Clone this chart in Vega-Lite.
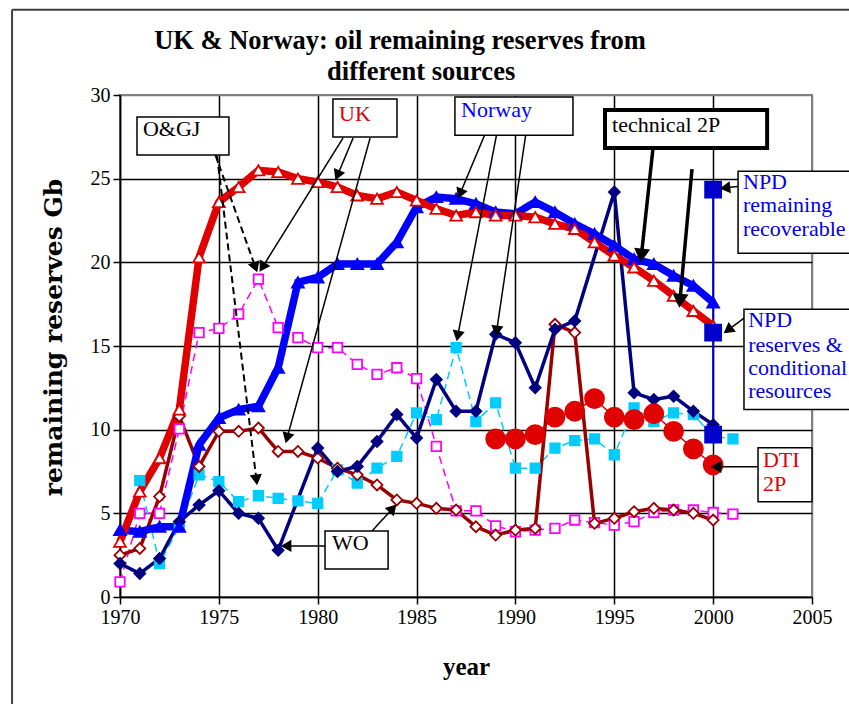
{
  "$schema": "https://vega.github.io/schema/vega-lite/v6.json",
  "width": 692,
  "height": 502,
  "autosize": {"type": "none"},
  "padding": {"left": 120, "top": 95, "right": 37, "bottom": 107},
  "background": "white",
  "config": {"view": {"stroke": "#808080", "strokeWidth": 2}, "font": "Liberation Serif"},
  "datasets": {
    "series": [
      {"series": "UK O&GJ", "year": 1970, "value": 0.9},
      {"series": "UK O&GJ", "year": 1971, "value": 5.0},
      {"series": "UK O&GJ", "year": 1972, "value": 5.0},
      {"series": "UK O&GJ", "year": 1973, "value": 10.05},
      {"series": "UK O&GJ", "year": 1974, "value": 15.8},
      {"series": "UK O&GJ", "year": 1975, "value": 16.05},
      {"series": "UK O&GJ", "year": 1976, "value": 16.9},
      {"series": "UK O&GJ", "year": 1977, "value": 19.0},
      {"series": "UK O&GJ", "year": 1978, "value": 16.1},
      {"series": "UK O&GJ", "year": 1979, "value": 15.5},
      {"series": "UK O&GJ", "year": 1980, "value": 14.9},
      {"series": "UK O&GJ", "year": 1981, "value": 14.9},
      {"series": "UK O&GJ", "year": 1982, "value": 13.9},
      {"series": "UK O&GJ", "year": 1983, "value": 13.3},
      {"series": "UK O&GJ", "year": 1984, "value": 13.7},
      {"series": "UK O&GJ", "year": 1985, "value": 13.05},
      {"series": "UK O&GJ", "year": 1986, "value": 9.0},
      {"series": "UK O&GJ", "year": 1987, "value": 5.15},
      {"series": "UK O&GJ", "year": 1988, "value": 5.15},
      {"series": "UK O&GJ", "year": 1989, "value": 4.25},
      {"series": "UK O&GJ", "year": 1990, "value": 3.9},
      {"series": "UK O&GJ", "year": 1991, "value": 4.0},
      {"series": "UK O&GJ", "year": 1992, "value": 4.1},
      {"series": "UK O&GJ", "year": 1993, "value": 4.6},
      {"series": "UK O&GJ", "year": 1994, "value": 4.45},
      {"series": "UK O&GJ", "year": 1995, "value": 4.3},
      {"series": "UK O&GJ", "year": 1996, "value": 4.5},
      {"series": "UK O&GJ", "year": 1997, "value": 5.05},
      {"series": "UK O&GJ", "year": 1998, "value": 5.2},
      {"series": "UK O&GJ", "year": 1999, "value": 5.2},
      {"series": "UK O&GJ", "year": 2000, "value": 5.05},
      {"series": "UK O&GJ", "year": 2001, "value": 4.95},

      {"series": "Norway O&GJ", "year": 1971, "value": 6.95},
      {"series": "Norway O&GJ", "year": 1972, "value": 2.0},
      {"series": "Norway O&GJ", "year": 1973, "value": 4.2},
      {"series": "Norway O&GJ", "year": 1974, "value": 7.3},
      {"series": "Norway O&GJ", "year": 1975, "value": 6.9},
      {"series": "Norway O&GJ", "year": 1976, "value": 5.7},
      {"series": "Norway O&GJ", "year": 1977, "value": 6.05},
      {"series": "Norway O&GJ", "year": 1978, "value": 5.9},
      {"series": "Norway O&GJ", "year": 1979, "value": 5.75},
      {"series": "Norway O&GJ", "year": 1980, "value": 5.6},
      {"series": "Norway O&GJ", "year": 1981, "value": 7.6},
      {"series": "Norway O&GJ", "year": 1982, "value": 6.8},
      {"series": "Norway O&GJ", "year": 1983, "value": 7.7},
      {"series": "Norway O&GJ", "year": 1984, "value": 8.4},
      {"series": "Norway O&GJ", "year": 1985, "value": 11.0},
      {"series": "Norway O&GJ", "year": 1986, "value": 10.6},
      {"series": "Norway O&GJ", "year": 1987, "value": 14.9},
      {"series": "Norway O&GJ", "year": 1988, "value": 10.5},
      {"series": "Norway O&GJ", "year": 1989, "value": 11.6},
      {"series": "Norway O&GJ", "year": 1990, "value": 7.7},
      {"series": "Norway O&GJ", "year": 1991, "value": 7.7},
      {"series": "Norway O&GJ", "year": 1992, "value": 8.9},
      {"series": "Norway O&GJ", "year": 1993, "value": 9.35},
      {"series": "Norway O&GJ", "year": 1994, "value": 9.45},
      {"series": "Norway O&GJ", "year": 1995, "value": 8.5},
      {"series": "Norway O&GJ", "year": 1996, "value": 11.3},
      {"series": "Norway O&GJ", "year": 1997, "value": 10.5},
      {"series": "Norway O&GJ", "year": 1998, "value": 11.0},
      {"series": "Norway O&GJ", "year": 1999, "value": 10.9},
      {"series": "Norway O&GJ", "year": 2000, "value": 9.6},
      {"series": "Norway O&GJ", "year": 2001, "value": 9.45},

      {"series": "UK WO", "year": 1970, "value": 2.5},
      {"series": "UK WO", "year": 1971, "value": 2.9},
      {"series": "UK WO", "year": 1972, "value": 6.0},
      {"series": "UK WO", "year": 1973, "value": 10.8},
      {"series": "UK WO", "year": 1974, "value": 7.8},
      {"series": "UK WO", "year": 1975, "value": 9.9},
      {"series": "UK WO", "year": 1976, "value": 9.9},
      {"series": "UK WO", "year": 1977, "value": 10.1},
      {"series": "UK WO", "year": 1978, "value": 8.7},
      {"series": "UK WO", "year": 1979, "value": 8.7},
      {"series": "UK WO", "year": 1980, "value": 8.3},
      {"series": "UK WO", "year": 1981, "value": 7.7},
      {"series": "UK WO", "year": 1982, "value": 7.3},
      {"series": "UK WO", "year": 1983, "value": 6.7},
      {"series": "UK WO", "year": 1984, "value": 5.8},
      {"series": "UK WO", "year": 1985, "value": 5.6},
      {"series": "UK WO", "year": 1986, "value": 5.3},
      {"series": "UK WO", "year": 1987, "value": 5.2},
      {"series": "UK WO", "year": 1988, "value": 4.2},
      {"series": "UK WO", "year": 1989, "value": 3.7},
      {"series": "UK WO", "year": 1990, "value": 4.0},
      {"series": "UK WO", "year": 1991, "value": 4.1},
      {"series": "UK WO", "year": 1992, "value": 16.3},
      {"series": "UK WO", "year": 1993, "value": 15.8},
      {"series": "UK WO", "year": 1994, "value": 4.4},
      {"series": "UK WO", "year": 1995, "value": 4.7},
      {"series": "UK WO", "year": 1996, "value": 5.1},
      {"series": "UK WO", "year": 1997, "value": 5.3},
      {"series": "UK WO", "year": 1998, "value": 5.2},
      {"series": "UK WO", "year": 1999, "value": 5.0},
      {"series": "UK WO", "year": 2000, "value": 4.6},

      {"series": "Norway WO", "year": 1970, "value": 2.0},
      {"series": "Norway WO", "year": 1971, "value": 1.4},
      {"series": "Norway WO", "year": 1972, "value": 2.3},
      {"series": "Norway WO", "year": 1973, "value": 4.5},
      {"series": "Norway WO", "year": 1974, "value": 5.5},
      {"series": "Norway WO", "year": 1975, "value": 6.35},
      {"series": "Norway WO", "year": 1976, "value": 5.0},
      {"series": "Norway WO", "year": 1977, "value": 4.7},
      {"series": "Norway WO", "year": 1978, "value": 2.8},
      {"series": "Norway WO", "year": 1980, "value": 8.9},
      {"series": "Norway WO", "year": 1981, "value": 7.5},
      {"series": "Norway WO", "year": 1982, "value": 7.8},
      {"series": "Norway WO", "year": 1983, "value": 9.3},
      {"series": "Norway WO", "year": 1984, "value": 10.9},
      {"series": "Norway WO", "year": 1985, "value": 9.5},
      {"series": "Norway WO", "year": 1986, "value": 13.0},
      {"series": "Norway WO", "year": 1987, "value": 11.1},
      {"series": "Norway WO", "year": 1988, "value": 11.1},
      {"series": "Norway WO", "year": 1989, "value": 15.7},
      {"series": "Norway WO", "year": 1990, "value": 15.2},
      {"series": "Norway WO", "year": 1991, "value": 12.5},
      {"series": "Norway WO", "year": 1992, "value": 16.0},
      {"series": "Norway WO", "year": 1993, "value": 16.5},
      {"series": "Norway WO", "year": 1995, "value": 24.2},
      {"series": "Norway WO", "year": 1996, "value": 12.2},
      {"series": "Norway WO", "year": 1997, "value": 11.8},
      {"series": "Norway WO", "year": 1998, "value": 12.0},
      {"series": "Norway WO", "year": 1999, "value": 11.1},
      {"series": "Norway WO", "year": 2000, "value": 10.3},

      {"series": "Norway technical 2P", "year": 1970, "value": 4.0},
      {"series": "Norway technical 2P", "year": 1971, "value": 3.9},
      {"series": "Norway technical 2P", "year": 1972, "value": 4.2},
      {"series": "Norway technical 2P", "year": 1973, "value": 4.2},
      {"series": "Norway technical 2P", "year": 1974, "value": 9.1},
      {"series": "Norway technical 2P", "year": 1975, "value": 10.7},
      {"series": "Norway technical 2P", "year": 1976, "value": 11.2},
      {"series": "Norway technical 2P", "year": 1977, "value": 11.4},
      {"series": "Norway technical 2P", "year": 1978, "value": 13.7},
      {"series": "Norway technical 2P", "year": 1979, "value": 18.8},
      {"series": "Norway technical 2P", "year": 1980, "value": 19.1},
      {"series": "Norway technical 2P", "year": 1981, "value": 19.9},
      {"series": "Norway technical 2P", "year": 1982, "value": 19.9},
      {"series": "Norway technical 2P", "year": 1983, "value": 19.9},
      {"series": "Norway technical 2P", "year": 1984, "value": 21.2},
      {"series": "Norway technical 2P", "year": 1985, "value": 23.3},
      {"series": "Norway technical 2P", "year": 1986, "value": 23.9},
      {"series": "Norway technical 2P", "year": 1987, "value": 23.8},
      {"series": "Norway technical 2P", "year": 1988, "value": 23.5},
      {"series": "Norway technical 2P", "year": 1989, "value": 23.0},
      {"series": "Norway technical 2P", "year": 1990, "value": 22.9},
      {"series": "Norway technical 2P", "year": 1991, "value": 23.6},
      {"series": "Norway technical 2P", "year": 1992, "value": 23.0},
      {"series": "Norway technical 2P", "year": 1993, "value": 22.3},
      {"series": "Norway technical 2P", "year": 1994, "value": 21.7},
      {"series": "Norway technical 2P", "year": 1995, "value": 21.0},
      {"series": "Norway technical 2P", "year": 1996, "value": 20.2},
      {"series": "Norway technical 2P", "year": 1997, "value": 19.9},
      {"series": "Norway technical 2P", "year": 1998, "value": 19.2},
      {"series": "Norway technical 2P", "year": 1999, "value": 18.6},
      {"series": "Norway technical 2P", "year": 2000, "value": 17.6},

      {"series": "UK technical 2P", "year": 1970, "value": 3.3},
      {"series": "UK technical 2P", "year": 1971, "value": 6.3},
      {"series": "UK technical 2P", "year": 1972, "value": 8.3},
      {"series": "UK technical 2P", "year": 1973, "value": 11.2},
      {"series": "UK technical 2P", "year": 1974, "value": 20.3},
      {"series": "UK technical 2P", "year": 1975, "value": 23.6},
      {"series": "UK technical 2P", "year": 1976, "value": 24.5},
      {"series": "UK technical 2P", "year": 1977, "value": 25.5},
      {"series": "UK technical 2P", "year": 1978, "value": 25.4},
      {"series": "UK technical 2P", "year": 1979, "value": 25.0},
      {"series": "UK technical 2P", "year": 1980, "value": 24.8},
      {"series": "UK technical 2P", "year": 1981, "value": 24.5},
      {"series": "UK technical 2P", "year": 1982, "value": 24.0},
      {"series": "UK technical 2P", "year": 1983, "value": 23.8},
      {"series": "UK technical 2P", "year": 1984, "value": 24.2},
      {"series": "UK technical 2P", "year": 1985, "value": 23.7},
      {"series": "UK technical 2P", "year": 1986, "value": 23.2},
      {"series": "UK technical 2P", "year": 1987, "value": 22.8},
      {"series": "UK technical 2P", "year": 1988, "value": 23.0},
      {"series": "UK technical 2P", "year": 1989, "value": 22.8},
      {"series": "UK technical 2P", "year": 1990, "value": 22.8},
      {"series": "UK technical 2P", "year": 1991, "value": 22.7},
      {"series": "UK technical 2P", "year": 1992, "value": 22.3},
      {"series": "UK technical 2P", "year": 1993, "value": 22.0},
      {"series": "UK technical 2P", "year": 1994, "value": 21.2},
      {"series": "UK technical 2P", "year": 1995, "value": 20.4},
      {"series": "UK technical 2P", "year": 1996, "value": 19.7},
      {"series": "UK technical 2P", "year": 1997, "value": 18.9},
      {"series": "UK technical 2P", "year": 1998, "value": 18.0},
      {"series": "UK technical 2P", "year": 1999, "value": 17.1},
      {"series": "UK technical 2P", "year": 2000, "value": 16.2},

      {"series": "DTI 2P", "year": 1989, "value": 9.45},
      {"series": "DTI 2P", "year": 1990, "value": 9.45},
      {"series": "DTI 2P", "year": 1991, "value": 9.7},
      {"series": "DTI 2P", "year": 1992, "value": 10.75},
      {"series": "DTI 2P", "year": 1993, "value": 11.1},
      {"series": "DTI 2P", "year": 1994, "value": 11.85},
      {"series": "DTI 2P", "year": 1995, "value": 10.75},
      {"series": "DTI 2P", "year": 1996, "value": 10.6},
      {"series": "DTI 2P", "year": 1997, "value": 10.95},
      {"series": "DTI 2P", "year": 1998, "value": 9.9},
      {"series": "DTI 2P", "year": 1999, "value": 8.85},
      {"series": "DTI 2P", "year": 2000, "value": 7.9},

      {"series": "NPD", "year": 2000, "value": 9.7},
      {"series": "NPD", "year": 2000, "value": 15.8},
      {"series": "NPD", "year": 2000, "value": 24.35}
    ],
    "boxes": [
      {"x0": 1970.86, "x1": 1975.51, "y0": 28.68, "y1": 26.41, "kind": "thin"},
      {"x0": 1980.77, "x1": 1984.01, "y0": 29.76, "y1": 27.49, "kind": "thin"},
      {"x0": 1986.94, "x1": 1992.91, "y0": 29.88, "y1": 27.6, "kind": "thin"},
      {"x0": 1994.53, "x1": 2002.73, "y0": 29.1, "y1": 26.83, "kind": "thick"},
      {"x0": 2001.26, "x1": 2007.6, "y0": 25.45, "y1": 20.54, "kind": "thin"},
      {"x0": 2001.56, "x1": 2007.6, "y0": 17.19, "y1": 11.2, "kind": "thin"},
      {"x0": 2002.27, "x1": 2005.0, "y0": 8.92, "y1": 5.69, "kind": "thin"},
      {"x0": 1980.37, "x1": 1983.56, "y0": 3.95, "y1": 1.68, "kind": "thin"}
    ],
    "labels": [
      {"text": "O&GJ", "x": 1971.16, "y": 27.54, "who": "plain"},
      {"text": "UK", "x": 1981.08, "y": 28.44, "who": "UK"},
      {"text": "Norway", "x": 1987.25, "y": 28.68, "who": "Norway"},
      {"text": "technical 2P", "x": 1994.89, "y": 27.78, "who": "plain"},
      {"text": "NPD", "x": 2001.51, "y": 24.37, "who": "NPD"},
      {"text": "remaining", "x": 2001.51, "y": 22.99, "who": "NPD"},
      {"text": "recoverable", "x": 2001.51, "y": 21.56, "who": "NPD"},
      {"text": "NPD", "x": 2001.77, "y": 16.11, "who": "NPD"},
      {"text": "reserves &", "x": 2001.77, "y": 14.67, "who": "NPD"},
      {"text": "conditional", "x": 2001.77, "y": 13.29, "who": "NPD"},
      {"text": "resources", "x": 2001.77, "y": 11.92, "who": "NPD"},
      {"text": "DTI", "x": 2002.52, "y": 7.78, "who": "DTI"},
      {"text": "2P", "x": 2002.52, "y": 6.35, "who": "DTI"},
      {"text": "WO", "x": 1980.72, "y": 2.81, "who": "plain"}
    ],
    "titles": [
      {"text": "UK & Norway: oil remaining reserves from", "x": 1984.16, "y": 32.72},
      {"text": "different sources", "x": 1985.23, "y": 30.9}
    ],
    "arrows": [
      {"xs": 1974.81, "ys": 26.47, "xt": 1976.85, "yt": 19.7, "kind": "dashed"},
      {"xs": 1974.91, "ys": 26.35, "xt": 1976.9, "yt": 7.0, "kind": "dashed"},
      {"xs": 1981.28, "ys": 27.43, "xt": 1977.2, "yt": 19.7, "kind": "solid"},
      {"xs": 1981.79, "ys": 27.43, "xt": 1981.0, "yt": 25.2, "kind": "solid"},
      {"xs": 1982.65, "ys": 27.43, "xt": 1978.45, "yt": 9.5, "kind": "solid"},
      {"xs": 1988.46, "ys": 27.66, "xt": 1987.2, "yt": 24.1, "kind": "solid"},
      {"xs": 1989.07, "ys": 27.78, "xt": 1987.08, "yt": 15.6, "kind": "solid"},
      {"xs": 1990.54, "ys": 27.78, "xt": 1989.05, "yt": 15.9, "kind": "solid"},
      {"xs": 1996.96, "ys": 26.83, "xt": 1996.37, "yt": 20.4, "kind": "thick"},
      {"xs": 1998.93, "ys": 25.57, "xt": 1998.32, "yt": 17.7, "kind": "thick"},
      {"xs": 2001.36, "ys": 24.55, "xt": 2000.6, "yt": 24.45, "kind": "solid"},
      {"xs": 2001.61, "ys": 16.71, "xt": 2000.75, "yt": 15.95, "kind": "solid"},
      {"xs": 2002.27, "ys": 7.78, "xt": 2000.15, "yt": 7.78, "kind": "solid"},
      {"xs": 1980.37, "ys": 3.05, "xt": 1978.4, "yt": 3.05, "kind": "solid"},
      {"xs": 1982.75, "ys": 3.95, "xt": 1983.8, "yt": 5.3, "kind": "solid"}
    ],
    "frame": [
      {"xs": 1964.54, "ys": 35.1, "xt": 2012, "yt": 35.1},
      {"xs": 1964.54, "ys": 35.1, "xt": 1964.54, "yt": -8}
    ]
  },
  "resolve": {"scale": {"color": "independent", "fill": "independent", "stroke": "independent", "strokeWidth": "independent", "strokeDash": "independent", "size": "independent", "shape": "independent"}},
  "layer": [
    {
      "data": {"name": "frame"},
      "mark": {"type": "rule", "color": "#404040", "strokeWidth": 2, "clip": false},
      "encoding": {
        "x": {"field": "xs", "type": "quantitative", "scale": {"domain": [1970, 2005], "nice": false, "zero": false},
          "axis": {
            "values": [1970, 1975, 1980, 1985, 1990, 1995, 2000, 2005], "format": "d", "labelFlush": false,
            "grid": true, "gridColor": {"condition": {"test": "datum.value === 2005", "value": "#808080"}, "value": "black"}, "gridWidth": 1.5,
            "domainColor": "black", "domainWidth": 1.5, "tickColor": "black", "tickSize": 7, "tickWidth": 1.5,
            "labelFont": "Liberation Serif", "labelFontSize": 20, "labelColor": "black", "labelPadding": 3,
            "title": "year", "titleFont": "Liberation Serif", "titleFontSize": 25, "titleFontWeight": "bold", "titleColor": "black", "titlePadding": 27
          }},
        "x2": {"field": "xt"},
        "y": {"field": "ys", "type": "quantitative", "scale": {"domain": [0, 30], "nice": false, "zero": true},
          "axis": {
            "values": [0, 5, 10, 15, 20, 25, 30], "labelFlush": false,
            "grid": true, "gridColor": {"condition": {"test": "datum.value === 30", "value": "#808080"}, "value": "black"}, "gridWidth": 1.5,
            "domainColor": "black", "domainWidth": 1.5, "tickColor": "black", "tickSize": 7, "tickWidth": 1.5,
            "labelFont": "Liberation Serif", "labelFontSize": 20, "labelColor": "black", "labelPadding": 3,
            "title": "remaining reserves Gb", "titleFont": "DejaVu Serif", "titleFontSize": 25, "titleFontWeight": "bold", "titleColor": "black",
            "titleAngle": 270, "titleX": -67, "titleY": 242, "titleAlign": "center", "titleBaseline": "middle"
          }},
        "y2": {"field": "yt"}
      }
    },
    {
      "data": {"name": "titles"},
      "mark": {"type": "text", "align": "center", "baseline": "alphabetic", "font": "Liberation Serif", "fontSize": 26.5, "fontWeight": "bold", "color": "black", "clip": false},
      "encoding": {
        "x": {"field": "x", "type": "quantitative"},
        "y": {"field": "y", "type": "quantitative"},
        "text": {"field": "text"}
      }
    },
    {
      "data": {"name": "series"},
      "mark": {"type": "line", "clip": false},
      "encoding": {
        "x": {"field": "year", "type": "quantitative"},
        "y": {"field": "value", "type": "quantitative"},
        "color": {"field": "series", "type": "nominal", "legend": null,
          "scale": {"domain": ["UK O&GJ", "Norway O&GJ", "UK WO", "Norway WO", "Norway technical 2P", "UK technical 2P", "DTI 2P", "NPD"],
                    "range": ["#FF00FF", "#00CCFF", "#990000", "#000080", "#0000FF", "#E00000", "#E00000", "#0000CC"]}},
        "strokeWidth": {"field": "series", "type": "ordinal", "legend": null,
          "scale": {"type": "ordinal", "domain": ["UK O&GJ", "Norway O&GJ", "UK WO", "Norway WO", "Norway technical 2P", "UK technical 2P", "DTI 2P", "NPD"],
                    "range": [1.5, 1.5, 3.5, 3.5, 7.5, 7.5, 1.5, 2]}},
        "strokeDash": {"field": "series", "type": "nominal", "legend": null,
          "scale": {"domain": ["UK O&GJ", "Norway O&GJ", "UK WO", "Norway WO", "Norway technical 2P", "UK technical 2P", "DTI 2P", "NPD"],
                    "range": [[8, 5], [8, 5], [1, 0], [1, 0], [1, 0], [1, 0], [1, 0], [1, 0]]}}
      }
    },
    {
      "data": {"name": "series"},
      "mark": {"type": "point", "filled": true, "strokeWidth": 1.8, "opacity": 1, "clip": false},
      "encoding": {
        "x": {"field": "year", "type": "quantitative"},
        "y": {"field": "value", "type": "quantitative"},
        "shape": {"field": "series", "type": "nominal", "legend": null,
          "scale": {"domain": ["UK O&GJ", "Norway O&GJ", "UK WO", "Norway WO", "Norway technical 2P", "UK technical 2P", "DTI 2P", "NPD"],
                    "range": ["square", "square", "diamond", "diamond", "triangle-up", "triangle-up", "circle", "square"]}},
        "fill": {"field": "series", "type": "nominal", "legend": null,
          "scale": {"domain": ["UK O&GJ", "Norway O&GJ", "UK WO", "Norway WO", "Norway technical 2P", "UK technical 2P", "DTI 2P", "NPD"],
                    "range": ["white", "#00CCFF", "white", "#000080", "#0000FF", "white", "#E00000", "#0000CC"]}},
        "stroke": {"field": "series", "type": "nominal", "legend": null,
          "scale": {"domain": ["UK O&GJ", "Norway O&GJ", "UK WO", "Norway WO", "Norway technical 2P", "UK technical 2P", "DTI 2P", "NPD"],
                    "range": ["#FF00FF", "#00CCFF", "#990000", "#000080", "#0000FF", "#E00000", "#E00000", "#0000CC"]}},
        "size": {"field": "series", "type": "ordinal", "legend": null,
          "scale": {"type": "ordinal", "domain": ["UK O&GJ", "Norway O&GJ", "UK WO", "Norway WO", "Norway technical 2P", "UK technical 2P", "DTI 2P", "NPD"],
                    "range": [90, 90, 120, 120, 140, 140, 361, 256]}}
      }
    },
    {
      "data": {"name": "arrows"},
      "mark": {"type": "rule", "color": "black", "clip": false},
      "encoding": {
        "x": {"field": "xs", "type": "quantitative"},
        "y": {"field": "ys", "type": "quantitative"},
        "x2": {"field": "xt"},
        "y2": {"field": "yt"},
        "strokeWidth": {"field": "kind", "type": "ordinal", "legend": null,
          "scale": {"type": "ordinal", "domain": ["solid", "dashed", "thick"], "range": [1.5, 2, 3.5]}},
        "strokeDash": {"field": "kind", "type": "nominal", "legend": null,
          "scale": {"domain": ["solid", "dashed", "thick"], "range": [[1, 0], [7, 4], [1, 0]]}}
      }
    },
    {
      "data": {"name": "boxes"},
      "mark": {"type": "rect", "fill": "white", "stroke": "black", "clip": false},
      "encoding": {
        "x": {"field": "x0", "type": "quantitative"},
        "x2": {"field": "x1"},
        "y": {"field": "y0", "type": "quantitative"},
        "y2": {"field": "y1"},
        "strokeWidth": {"field": "kind", "type": "ordinal", "legend": null,
          "scale": {"type": "ordinal", "domain": ["thin", "thick"], "range": [1.5, 4]}}
      }
    },
    {
      "data": {"name": "labels"},
      "mark": {"type": "text", "align": "left", "baseline": "alphabetic", "font": "Liberation Serif", "fontSize": 22, "clip": false},
      "encoding": {
        "x": {"field": "x", "type": "quantitative"},
        "y": {"field": "y", "type": "quantitative"},
        "text": {"field": "text"},
        "color": {"field": "who", "type": "nominal", "legend": null,
          "scale": {"domain": ["plain", "UK", "Norway", "NPD", "DTI"], "range": ["black", "#E00000", "#0000FF", "#0000EE", "#E00000"]}}
      }
    },
    {
      "data": {"name": "arrows"},
      "transform": [{"calculate": "atan2((datum.xt - datum.xs) * 19.77, (datum.yt - datum.ys) * 16.73) * 180 / PI", "as": "ang"}],
      "mark": {"type": "point", "shape": "triangle-up", "filled": true, "color": "black", "opacity": 1, "clip": false},
      "encoding": {
        "x": {"field": "xt", "type": "quantitative"},
        "y": {"field": "yt", "type": "quantitative"},
        "angle": {"field": "ang", "type": "quantitative", "scale": null},
        "size": {"field": "kind", "type": "ordinal", "legend": null,
          "scale": {"type": "ordinal", "domain": ["solid", "dashed", "thick"], "range": [150, 150, 260]}}
      }
    }
  ]
}
